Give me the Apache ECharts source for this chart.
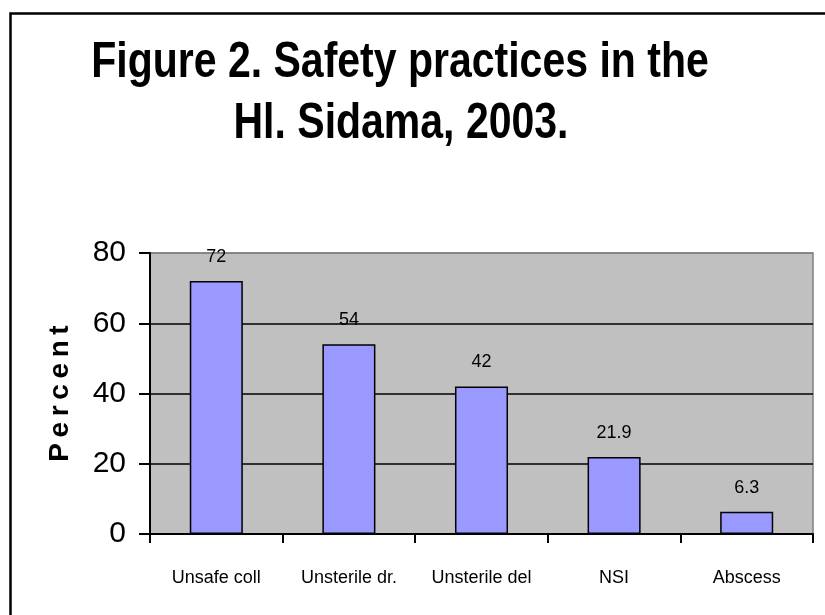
<!DOCTYPE html>
<html>
<head>
<meta charset="utf-8">
<script src="https://cdn.jsdelivr.net/npm/echarts@6/dist/echarts.min.js"></script>
<style>html,body{margin:0;padding:0;background:#fff}#c{width:825px;height:615px}</style>
</head>
<body>
<div id="c"></div>
<script>
const categories = ['Unsafe coll', 'Unsterile dr.', 'Unsterile del', 'NSI', 'Abscess'];
const percentValues = [72, 54, 42, 21.9, 6.3];
const yTicks = [0, 20, 40, 60, 80];
const titleLines = ['Figure 2. Safety practices in the', 'Hl. Sidama, 2003.'];
const yAxisTitle = 'P\u2009e\u2009r\u2009c\u2009e\u2009n\u2009t';

const FONT = '"Liberation Sans Narrow", "Arial Narrow", "Liberation Sans", Arial, sans-serif';
const chart = echarts.init(document.getElementById('c'), null, {renderer: 'canvas'});
chart.setOption({
  backgroundColor: '#fff',
  animation: false,
  graphic: [
    {type: 'rect', left: 8, top: 11, shape: {width: 900, height: 700},
     style: {fill: 'none', stroke: '#000', lineWidth: 2.5}, z: -1, silent: true},
    {type: 'text', x: 400, y: 63, scaleX: 0.82,
     style: {text: titleLines[0], x: 0, y: 0, align: 'center', verticalAlign: 'middle',
             font: 'bold 50px "Liberation Sans", Arial, sans-serif', fill: '#000'}},
    {type: 'text', x: 401, y: 124, scaleX: 0.82,
     style: {text: titleLines[1], x: 0, y: 0, align: 'center', verticalAlign: 'middle',
             font: 'bold 50px "Liberation Sans", Arial, sans-serif', fill: '#000'}}
  ],
  grid: {left: 150, top: 253, right: 12, bottom: 81, show: true, backgroundColor: '#c0c0c0', borderColor: '#808080', borderWidth: 1.5},
  xAxis: {
    type: 'category', data: categories, boundaryGap: true,
    axisLine: {lineStyle: {color: '#000', width: 2}},
    axisTick: {show: true, length: 9, lineStyle: {color: '#000', width: 2}, alignWithLabel: false},
    axisLabel: {fontFamily: FONT, fontSize: 18, color: '#000', margin: 35, interval: 0}
  },
  yAxis: {
    type: 'value', min: yTicks[0], max: yTicks[yTicks.length - 1], interval: 20,
    name: yAxisTitle, nameLocation: 'middle', nameGap: 76, nameRotate: 90,
    nameTextStyle: {fontFamily: '"Liberation Sans", Arial, sans-serif', fontWeight: 'bold', fontSize: 28, color: '#000'},
    axisLine: {show: true, lineStyle: {color: '#000', width: 2}},
    axisTick: {show: true, length: 11, lineStyle: {color: '#000', width: 2}},
    axisLabel: {fontFamily: FONT, fontSize: 30, color: '#000', margin: 24},
    splitLine: {show: true, lineStyle: {color: ['#000', '#000', '#000', '#000', '#808080'], width: 1.5}}
  },
  series: [{
    type: 'bar', data: percentValues, barCategoryGap: '60%',
    itemStyle: {color: '#9999ff', borderColor: '#000', borderWidth: 1.5},
    label: {show: true, position: 'top', distance: 15, fontFamily: FONT, fontSize: 18, color: '#000'}
  }]
});
</script>
</body>
</html>
